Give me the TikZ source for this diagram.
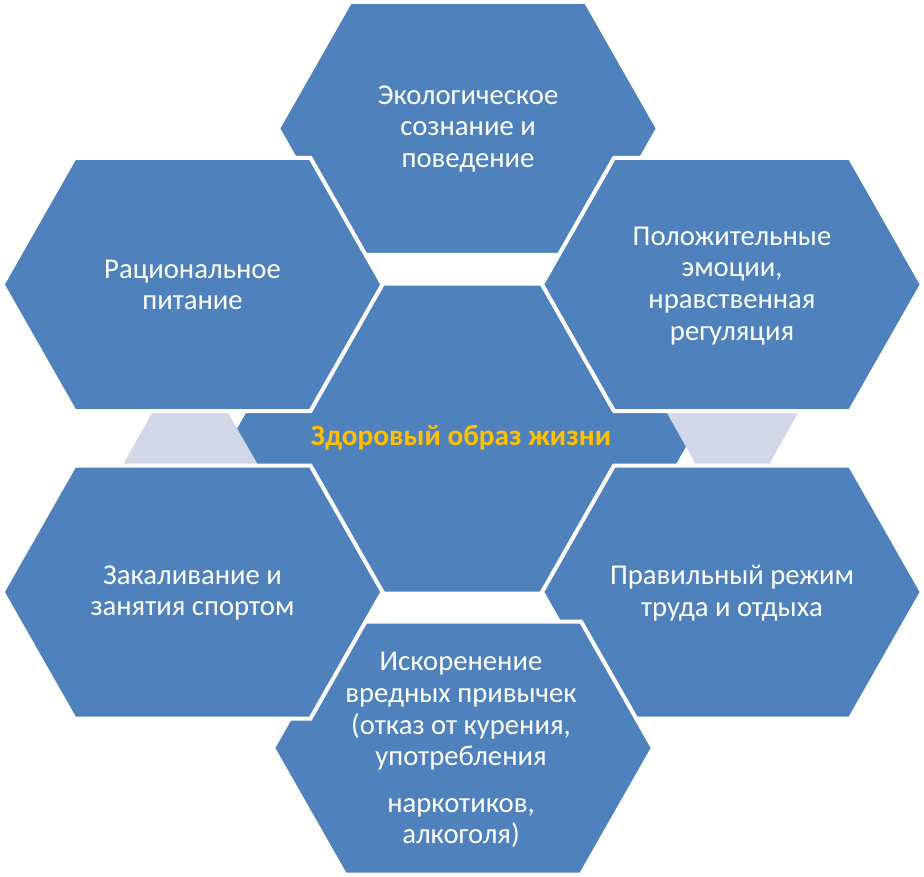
\documentclass[tikz,border=0pt]{standalone}
\usepackage{fontspec}
\setmainfont{Carlito}
\definecolor{bleu}{HTML}{4F81BD}
\definecolor{gris}{HTML}{D0D8E8}
\definecolor{or}{HTML}{FFC000}
\begin{document}
\begin{tikzpicture}[
    x=0.75pt, y=-0.75pt, % coordonnées en pixels
    hexa/.style={fill=bleu, draw=white, line width=3pt, line join=miter},
    petit/.style={fill=gris},
    texte/.style={text=white, align=center, font=\fontsize{21.5}{23.8}\selectfont},
    titre/.style={text=or, font=\fontsize{22}{24}\selectfont\bfseries}
]
\useasboundingbox (0,0) rectangle (924,877);
% Hexagone central
\draw[hexa] (229,438.5) -- (317,283.5) -- (605,283.5) -- (693,438.5)
    -- (605,593.5) -- (317,593.5) -- cycle;
% Petites pièces grises
\fill[petit] (156.5,405) -- (223.5,405) -- (261,470) -- (120,470) -- cycle;
\fill[petit] (662.5,405) -- (802.5,405) -- (766,470) -- (699,470) -- cycle;
% Hexagones extérieurs (ordre de superposition)
\foreach \cx/\cy in {468/128.5, 732/284.5, 192.5/284.5, 732/592, 463/748, 192.5/592}
    \draw[hexa] (\cx-190,\cy) -- (\cx-118,\cy-126.5) -- (\cx+118,\cy-126.5)
        -- (\cx+190,\cy) -- (\cx+118,\cy+126.5) -- (\cx-118,\cy+126.5) -- cycle;
% Textes
\node[titre] (centre) at (461,438) {Здоровый образ жизни};
\node[texte] (ecologie) at (468,129) {Экологическое\\сознание и\\поведение};
\node[texte] (emotions) at (732,286) {Положительные\\эмоции,\\нравственная\\регуляция};
\node[texte] (nutrition) at (192.5,285) {Рациональное\\питание};
\node[texte] (regime) at (732,593) {Правильный режим\\труда и отдыха};
\node[texte] (habitudes) at (461,750) {Искоренение\\вредных привычек\\(отказ от курения,\\употребления\\[11pt]наркотиков,\\алкоголя)};
\node[texte] (sport) at (192.5,593) {Закаливание и\\занятия спортом};
\end{tikzpicture}
\end{document}
